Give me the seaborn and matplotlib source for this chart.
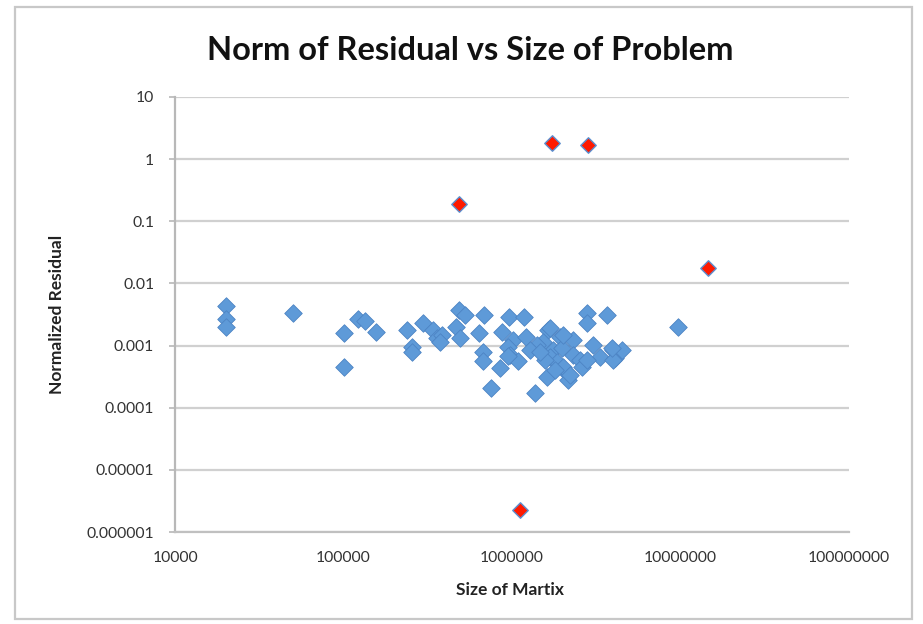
import matplotlib
matplotlib.use("Agg")
import matplotlib.pyplot as plt
import seaborn as sns
import pandas as pd
from matplotlib.patches import Rectangle
from matplotlib.ticker import FixedLocator, FixedFormatter, NullLocator

# ---------------- data ----------------
blue_x = [20000, 20000, 20000, 50000, 100000, 100000, 122000, 134000, 156000, 238000,
          255000, 255000, 297000, 340000, 359000, 384000, 375000, 485000, 526000, 466000,
          490000, 682000, 637000, 673000, 673000, 750000, 849000, 873000, 960000, 1180000,
          1010000, 946000, 973000, 1090000, 1210000, 1370000, 1640000, 1530000, 1930000, 2300000,
          1610000, 1750000, 2120000, 2150000, 2790000, 2790000, 3660000, 3030000, 3330000, 3970000,
          4080000, 4500000, 1410000, 1280000, 1680000, 1980000, 2300000, 1850000, 2530000, 2010000,
          2600000, 3970000, 9670000, 1680000, 2010000, 3900000, 2790000, 946000, 1570000, 1800000,
          2200000, 1470000]
blue_y = [0.0043, 0.0027, 0.0020, 0.0033, 0.00158, 0.00045, 0.0027, 0.0025, 0.00164, 0.0018,
          0.00095, 0.00078, 0.0023, 0.0018, 0.00132, 0.00147, 0.00113, 0.0037, 0.0031, 0.0020,
          0.00132, 0.0031, 0.00158, 0.00078, 0.00056, 0.00021, 0.00043, 0.00164, 0.0029, 0.0029,
          0.00122, 0.00095, 0.00070, 0.00056, 0.00136, 0.00017, 0.0018, 0.00113, 0.00136, 0.00122,
          0.00031, 0.00084, 0.00036, 0.00028, 0.0033, 0.0023, 0.0031, 0.00101, 0.00065, 0.00084,
          0.00062, 0.00084, 0.00101, 0.00084, 0.00065, 0.00091, 0.00070, 0.00054, 0.00058, 0.00045,
          0.00045, 0.00058, 0.0020, 0.0019, 0.00147, 0.00091, 0.00058, 0.00068, 0.00058, 0.00040,
          0.00033, 0.00078]

red_x = [487000, 1720000, 2810000, 14600000, 1110000]
red_y = [0.19, 1.84, 1.69, 0.0175, 0.0000023]

x_ticks = [1e4, 1e5, 1e6, 1e7, 1e8]
x_tick_labels = ["10000", "100000", "1000000", "10000000", "100000000"]
y_ticks = [1e-6, 1e-5, 1e-4, 1e-3, 1e-2, 1e-1, 1, 10]
y_tick_labels = ["0.000001", "0.00001", "0.0001", "0.001", "0.01", "0.1", "1", "10"]

title = "Norm of Residual vs Size of Problem"
x_label = "Size of Martix"
y_label = "Normalized Residual"

# ---------------- figure ----------------
sns.set_style("white")
plt.rcParams["font.family"] = ["Lato", "DejaVu Sans"]

W, H = 923, 624
fig = plt.figure(figsize=(W / 100, H / 100), dpi=100)
fig.patch.set_facecolor("white")

L, R, T, B = 175, 849, 97, 532
ax = fig.add_axes([L / W, 1 - B / H, (R - L) / W, (B - T) / H])

blue_df = pd.DataFrame({"size": blue_x, "resid": blue_y})
red_df = pd.DataFrame({"size": red_x, "resid": red_y})

sns.scatterplot(data=blue_df, x="size", y="resid", ax=ax, marker="D", s=80,
                color="#5e9ad8", edgecolor="#4d84c4", linewidth=0.6, zorder=3, legend=False)
sns.scatterplot(data=red_df, x="size", y="resid", ax=ax, marker="D", s=62,
                color="#ff1a00", edgecolor="#5b8fd0", linewidth=1.0, zorder=4, legend=False)

ax.set_xscale("log")
ax.set_yscale("log")
ax.set_xlim(1e4, 1e8)
ax.set_ylim(1e-6, 10)

ax.xaxis.set_major_locator(FixedLocator(x_ticks))
ax.xaxis.set_major_formatter(FixedFormatter(x_tick_labels))
ax.xaxis.set_minor_locator(NullLocator())
ax.yaxis.set_major_locator(FixedLocator(y_ticks))
ax.yaxis.set_major_formatter(FixedFormatter(y_tick_labels))
ax.yaxis.set_minor_locator(NullLocator())

ax.grid(axis="y", color="#d0d0d0", linewidth=1.6, zorder=0)
ax.grid(axis="x", visible=False)
ax.set_axisbelow(True)

for side in ["top", "right"]:
    ax.spines[side].set_visible(False)
ax.spines["left"].set_color("#b8b8b8")
ax.spines["left"].set_linewidth(1.6)
ax.spines["bottom"].set_color("#c0c0c0")
ax.spines["bottom"].set_linewidth(1.6)

ax.tick_params(axis="y", which="major", length=4, width=1.2, color="#b8b8b8",
               pad=11, labelsize=11.3, labelcolor="#333333", left=True)
ax.tick_params(axis="x", which="major", length=0, pad=14, labelsize=11.3,
               labelcolor="#333333", bottom=True)

ax.set_xlabel(x_label, fontsize=12.5, fontweight="bold", color="#222222")
ax.set_ylabel(y_label, fontsize=12.5, fontweight="bold", color="#222222")
ax.xaxis.set_label_coords((510 - L) / (R - L), (B - 590) / (B - T))
ax.xaxis.label.set_verticalalignment("center")
ax.yaxis.set_label_coords((57 - L) / (R - L), (B - 314) / (B - T))
ax.yaxis.label.set_verticalalignment("center")

fig.text(470 / W, 1 - 50 / H, title, fontsize=23.5, fontweight="bold",
         ha="center", va="center", color="#111111")

# outer chart frame
fig.patches.append(Rectangle((15 / W, 1 - 619 / H), (912 - 15) / W, (619 - 7) / H,
                             transform=fig.transFigure, fill=False,
                             edgecolor="#c8c8c8", linewidth=1.6))

fig.savefig("out.png", dpi=100, facecolor="white")
